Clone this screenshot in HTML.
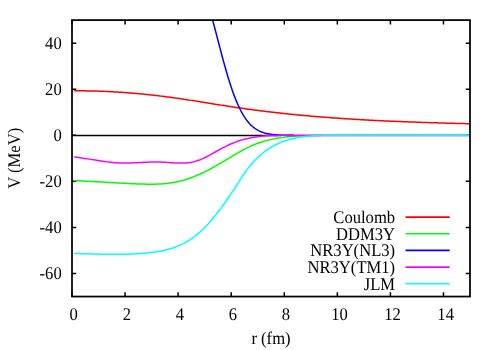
<!DOCTYPE html>
<html><head><meta charset="utf-8"><title>plot</title>
<style>
html,body{margin:0;padding:0;background:#fff;}
body{width:500px;height:350px;overflow:hidden;}
svg{display:block;}
text{font-family:"Liberation Serif",serif;font-size:16.6px;fill:#000;text-rendering:geometricPrecision;}
.t{filter:grayscale(1);}
</style></head><body>
<svg width="500" height="350" viewBox="0 0 500 350">
<rect width="500" height="350" fill="#fff"/>
<line x1="72.00" y1="135.39" x2="281.00" y2="135.39" stroke="#000" stroke-width="1.5"/>
<path d="M72.00 296.55 V292.25 M72.00 20.10 V24.40 M125.07 296.55 V292.25 M125.07 20.10 V24.40 M178.13 296.55 V292.25 M178.13 20.10 V24.40 M231.20 296.55 V292.25 M231.20 20.10 V24.40 M284.27 296.55 V292.25 M284.27 20.10 V24.40 M337.33 296.55 V292.25 M337.33 20.10 V24.40 M390.40 296.55 V292.25 M390.40 20.10 V24.40 M443.47 296.55 V292.25 M443.47 20.10 V24.40 M72.00 273.51 H76.30 M470.00 273.51 H465.70 M72.00 227.44 H76.30 M470.00 227.44 H465.70 M72.00 181.36 H76.30 M470.00 181.36 H465.70 M72.00 135.29 H76.30 M470.00 135.29 H465.70 M72.00 89.21 H76.30 M470.00 89.21 H465.70 M72.00 43.14 H76.30 M470.00 43.14 H465.70" stroke="#000" stroke-width="1.5" fill="none"/>
<path d="M74.20 90.85 L75.70 90.84 L77.20 90.84 L78.70 90.83 L80.20 90.83 L81.70 90.84 L83.20 90.85 L84.70 90.86 L86.20 90.88 L87.70 90.90 L89.20 90.92 L90.70 90.95 L92.20 90.98 L93.70 91.02 L95.20 91.05 L96.70 91.10 L98.20 91.14 L99.70 91.19 L101.20 91.25 L102.70 91.30 L104.20 91.36 L105.70 91.43 L107.20 91.49 L108.70 91.56 L110.20 91.64 L111.70 91.72 L113.20 91.80 L114.70 91.88 L116.20 91.97 L117.70 92.06 L119.20 92.16 L120.70 92.25 L122.20 92.36 L123.70 92.46 L125.20 92.57 L126.70 92.68 L128.20 92.80 L129.70 92.91 L131.20 93.04 L132.70 93.16 L134.20 93.29 L135.70 93.42 L137.20 93.55 L138.70 93.69 L140.20 93.83 L141.70 93.98 L143.20 94.12 L144.70 94.27 L146.20 94.43 L147.70 94.58 L149.20 94.74 L150.70 94.91 L152.20 95.07 L153.70 95.24 L155.20 95.41 L156.70 95.59 L158.20 95.77 L159.70 95.95 L161.20 96.13 L162.70 96.32 L164.20 96.51 L165.70 96.70 L167.20 96.90 L168.70 97.09 L170.20 97.30 L171.70 97.50 L173.20 97.71 L174.70 97.92 L176.20 98.13 L177.70 98.34 L179.20 98.56 L180.70 98.78 L182.20 99.00 L183.70 99.22 L185.20 99.45 L186.70 99.68 L188.20 99.90 L189.70 100.13 L191.20 100.37 L192.70 100.60 L194.20 100.83 L195.70 101.07 L197.20 101.30 L198.70 101.54 L200.20 101.78 L201.70 102.02 L203.20 102.25 L204.70 102.49 L206.20 102.73 L207.70 102.97 L209.20 103.21 L210.70 103.45 L212.20 103.69 L213.70 103.93 L215.20 104.17 L216.70 104.41 L218.20 104.65 L219.70 104.89 L221.20 105.13 L222.70 105.36 L224.20 105.60 L225.70 105.83 L227.20 106.07 L228.70 106.30 L230.20 106.53 L231.70 106.76 L233.20 106.98 L234.70 107.21 L236.20 107.43 L237.70 107.66 L239.20 107.88 L240.70 108.09 L242.20 108.31 L243.70 108.52 L245.20 108.73 L246.70 108.94 L248.20 109.15 L249.70 109.35 L251.20 109.56 L252.70 109.76 L254.20 109.96 L255.70 110.15 L257.20 110.35 L258.70 110.54 L260.20 110.73 L261.70 110.92 L263.20 111.11 L264.70 111.29 L266.20 111.48 L267.70 111.66 L269.20 111.84 L270.70 112.01 L272.20 112.19 L273.70 112.36 L275.20 112.53 L276.70 112.70 L278.20 112.87 L279.70 113.04 L281.20 113.20 L282.70 113.36 L284.20 113.52 L285.70 113.68 L287.20 113.84 L288.70 114.00 L290.20 114.15 L291.70 114.30 L293.20 114.45 L294.70 114.60 L296.20 114.75 L297.70 114.89 L299.20 115.04 L300.70 115.18 L302.20 115.32 L303.70 115.46 L305.20 115.59 L306.70 115.73 L308.20 115.86 L309.70 115.99 L311.20 116.13 L312.70 116.25 L314.20 116.38 L315.70 116.51 L317.20 116.63 L318.70 116.76 L320.20 116.88 L321.70 117.00 L323.20 117.12 L324.70 117.23 L326.20 117.35 L327.70 117.46 L329.20 117.58 L330.70 117.69 L332.20 117.80 L333.70 117.91 L335.20 118.02 L336.70 118.12 L338.20 118.23 L339.70 118.33 L341.20 118.43 L342.70 118.53 L344.20 118.63 L345.70 118.73 L347.20 118.83 L348.70 118.92 L350.20 119.02 L351.70 119.11 L353.20 119.21 L354.70 119.30 L356.20 119.39 L357.70 119.48 L359.20 119.56 L360.70 119.65 L362.20 119.73 L363.70 119.82 L365.20 119.90 L366.70 119.98 L368.20 120.07 L369.70 120.15 L371.20 120.22 L372.70 120.30 L374.20 120.38 L375.70 120.46 L377.20 120.53 L378.70 120.60 L380.20 120.68 L381.70 120.75 L383.20 120.82 L384.70 120.89 L386.20 120.96 L387.70 121.03 L389.20 121.10 L390.70 121.16 L392.20 121.23 L393.70 121.29 L395.20 121.36 L396.70 121.42 L398.20 121.48 L399.70 121.54 L401.20 121.61 L402.70 121.67 L404.20 121.72 L405.70 121.78 L407.20 121.84 L408.70 121.90 L410.20 121.95 L411.70 122.01 L413.20 122.07 L414.70 122.12 L416.20 122.17 L417.70 122.23 L419.20 122.28 L420.70 122.33 L422.20 122.38 L423.70 122.43 L425.20 122.48 L426.70 122.53 L428.20 122.58 L429.70 122.63 L431.20 122.68 L432.70 122.72 L434.20 122.77 L435.70 122.82 L437.20 122.86 L438.70 122.91 L440.20 122.95 L441.70 123.00 L443.20 123.04 L444.70 123.09 L446.20 123.13 L447.70 123.17 L449.20 123.21 L450.70 123.26 L452.20 123.30 L453.70 123.34 L455.20 123.38 L456.70 123.42 L458.20 123.46 L459.70 123.50 L461.20 123.54 L462.70 123.58 L464.20 123.62 L465.70 123.66 L467.20 123.70 L468.70 123.74 L469.60 123.76" fill="none" stroke="#ff0000" stroke-width="1.5" stroke-linejoin="round" stroke-linecap="butt"/>
<path d="M74.20 180.69 L75.70 180.73 L77.20 180.78 L78.70 180.84 L80.20 180.90 L81.70 180.96 L83.20 181.02 L84.70 181.09 L86.20 181.16 L87.70 181.23 L89.20 181.31 L90.70 181.38 L92.20 181.46 L93.70 181.54 L95.20 181.63 L96.70 181.71 L98.20 181.79 L99.70 181.88 L101.20 181.97 L102.70 182.06 L104.20 182.14 L105.70 182.23 L107.20 182.32 L108.70 182.41 L110.20 182.50 L111.70 182.59 L113.20 182.68 L114.70 182.77 L116.20 182.85 L117.70 182.94 L119.20 183.02 L120.70 183.11 L122.20 183.19 L123.70 183.27 L125.20 183.35 L126.70 183.42 L128.20 183.50 L129.70 183.57 L131.20 183.64 L132.70 183.71 L134.20 183.77 L135.70 183.83 L137.20 183.89 L138.70 183.95 L140.20 184.00 L141.70 184.04 L143.20 184.09 L144.70 184.12 L146.20 184.15 L147.70 184.18 L149.20 184.19 L150.70 184.20 L152.20 184.19 L153.70 184.18 L155.20 184.15 L156.70 184.11 L158.20 184.05 L159.70 183.99 L161.20 183.90 L162.70 183.80 L164.20 183.68 L165.70 183.55 L167.20 183.39 L168.70 183.22 L170.20 183.02 L171.70 182.80 L173.20 182.56 L174.70 182.30 L176.20 182.01 L177.70 181.70 L179.20 181.36 L180.70 180.99 L182.20 180.60 L183.70 180.17 L185.20 179.73 L186.70 179.25 L188.20 178.76 L189.70 178.24 L191.20 177.69 L192.70 177.12 L194.20 176.53 L195.70 175.92 L197.20 175.29 L198.70 174.63 L200.20 173.96 L201.70 173.27 L203.20 172.56 L204.70 171.83 L206.20 171.08 L207.70 170.32 L209.20 169.54 L210.70 168.75 L212.20 167.94 L213.70 167.12 L215.20 166.28 L216.70 165.43 L218.20 164.57 L219.70 163.70 L221.20 162.82 L222.70 161.92 L224.20 161.02 L225.70 160.12 L227.20 159.21 L228.70 158.30 L230.20 157.40 L231.70 156.49 L233.20 155.59 L234.70 154.70 L236.20 153.82 L237.70 152.95 L239.20 152.09 L240.70 151.24 L242.20 150.42 L243.70 149.61 L245.20 148.82 L246.70 148.06 L248.20 147.33 L249.70 146.62 L251.20 145.94 L252.70 145.28 L254.20 144.66 L255.70 144.07 L257.20 143.50 L258.70 142.96 L260.20 142.45 L261.70 141.96 L263.20 141.49 L264.70 141.05 L266.20 140.63 L267.70 140.24 L269.20 139.86 L270.70 139.51 L272.20 139.18 L273.70 138.87 L275.20 138.57 L276.70 138.30 L278.20 138.04 L279.70 137.80 L281.20 137.58 L282.70 137.37 L284.20 137.17 L285.70 137.00 L287.20 136.83 L288.70 136.68 L290.20 136.54 L291.70 136.41 L293.20 136.29 L294.70 136.19 L296.20 136.09 L297.70 136.00 L299.20 135.92 L300.70 135.85 L302.20 135.79 L303.70 135.74 L305.20 135.69 L306.70 135.65 L308.20 135.62 L309.70 135.59 L311.20 135.56 L312.70 135.54 L314.20 135.52 L315.70 135.51 L317.20 135.50 L318.70 135.49 L320.00 135.39" fill="none" stroke="#00ff00" stroke-width="1.5" stroke-linejoin="round" stroke-linecap="butt"/>
<line x1="319.50" y1="135.39" x2="322.00" y2="135.39" stroke="#00ff00" stroke-width="1.5"/>
<path d="M212.60 20.10 L213.60 23.78 L214.60 27.53 L215.60 31.31 L216.60 35.13 L217.60 38.96 L218.60 42.80 L219.60 46.63 L220.60 50.43 L221.60 54.21 L222.60 57.95 L223.60 61.63 L224.60 65.25 L225.60 68.80 L226.60 72.28 L227.60 75.67 L228.60 78.97 L229.60 82.18 L230.60 85.28 L231.60 88.28 L232.60 91.17 L233.60 93.96 L234.60 96.63 L235.60 99.18 L236.60 101.63 L237.60 103.95 L238.60 106.17 L239.60 108.28 L240.60 110.27 L241.60 112.15 L242.60 113.93 L243.60 115.61 L244.60 117.18 L245.60 118.65 L246.60 120.04 L247.60 121.32 L248.60 122.53 L249.60 123.65 L250.60 124.68 L251.60 125.65 L252.60 126.54 L253.60 127.36 L254.60 128.12 L255.60 128.81 L256.60 129.45 L257.60 130.04 L258.60 130.58 L259.60 131.07 L260.60 131.51 L261.60 131.92 L262.60 132.28 L263.60 132.62 L264.60 132.92 L265.60 133.19 L266.60 133.44 L267.60 133.66 L268.60 133.86 L269.60 134.04 L270.60 134.19 L271.60 134.34 L272.60 134.46 L273.60 134.58 L274.60 134.68 L275.60 134.76 L276.60 134.84 L277.60 134.91 L278.60 134.97 L279.60 135.03 L280.60 135.08 L281.60 135.12 L282.60 135.15 L283.60 135.19 L284.60 135.21 L285.60 135.24 L286.60 135.26 L287.60 135.28 L288.60 135.29 L289.60 135.31 L290.60 135.32 L291.60 135.33 L292.60 135.34 L293.60 135.34 L294.02 135.39" fill="none" stroke="#0000ff" stroke-width="1.5" stroke-linejoin="round" stroke-linecap="butt"/>
<line x1="293.52" y1="135.39" x2="287.50" y2="135.39" stroke="#0000ff" stroke-width="1.5"/>
<path d="M74.20 156.92 L75.70 157.10 L77.20 157.30 L78.70 157.50 L80.20 157.72 L81.70 157.94 L83.20 158.17 L84.70 158.40 L86.20 158.64 L87.70 158.88 L89.20 159.13 L90.70 159.37 L92.20 159.62 L93.70 159.86 L95.20 160.11 L96.70 160.35 L98.20 160.58 L99.70 160.82 L101.20 161.04 L102.70 161.26 L104.20 161.47 L105.70 161.67 L107.20 161.87 L108.70 162.05 L110.20 162.22 L111.70 162.37 L113.20 162.52 L114.70 162.64 L116.20 162.75 L117.70 162.85 L119.20 162.92 L120.70 162.98 L122.20 163.01 L123.70 163.03 L125.20 163.03 L126.70 163.02 L128.20 163.00 L129.70 162.96 L131.20 162.91 L132.70 162.86 L134.20 162.79 L135.70 162.72 L137.20 162.65 L138.70 162.57 L140.20 162.49 L141.70 162.41 L143.20 162.34 L144.70 162.26 L146.20 162.19 L147.70 162.13 L149.20 162.07 L150.70 162.03 L152.20 161.99 L153.70 161.97 L155.20 161.95 L156.70 161.96 L158.20 161.98 L159.70 162.01 L161.20 162.07 L162.70 162.14 L164.20 162.23 L165.70 162.33 L167.20 162.43 L168.70 162.54 L170.20 162.64 L171.70 162.75 L173.20 162.85 L174.70 162.93 L176.20 163.01 L177.70 163.06 L179.20 163.10 L180.70 163.12 L182.20 163.11 L183.70 163.06 L185.20 162.99 L186.70 162.88 L188.20 162.72 L189.70 162.53 L191.20 162.29 L192.70 162.00 L194.20 161.65 L195.70 161.25 L197.20 160.79 L198.70 160.28 L200.20 159.71 L201.70 159.09 L203.20 158.43 L204.70 157.72 L206.20 156.97 L207.70 156.19 L209.20 155.37 L210.70 154.54 L212.20 153.69 L213.70 152.84 L215.20 151.99 L216.70 151.15 L218.20 150.32 L219.70 149.50 L221.20 148.69 L222.70 147.90 L224.20 147.13 L225.70 146.38 L227.20 145.65 L228.70 144.95 L230.20 144.27 L231.70 143.61 L233.20 142.99 L234.70 142.39 L236.20 141.83 L237.70 141.30 L239.20 140.80 L240.70 140.32 L242.20 139.88 L243.70 139.47 L245.20 139.08 L246.70 138.72 L248.20 138.38 L249.70 138.06 L251.20 137.77 L252.70 137.50 L254.20 137.25 L255.70 137.02 L257.20 136.80 L258.70 136.61 L260.20 136.43 L261.70 136.26 L263.20 136.12 L264.70 135.99 L266.20 135.87 L267.70 135.76 L269.20 135.67 L270.70 135.59 L272.20 135.52 L273.70 135.46 L275.20 135.42 L276.70 135.38 L278.20 135.35 L279.70 135.32 L281.20 135.31 L282.70 135.30 L284.20 135.29 L285.00 135.39" fill="none" stroke="#ff00ff" stroke-width="1.5" stroke-linejoin="round" stroke-linecap="butt"/>
<line x1="284.50" y1="135.39" x2="469.60" y2="135.39" stroke="#ff00ff" stroke-width="1.7"/>
<path d="M74.20 253.51 L75.70 253.53 L77.20 253.57 L78.70 253.60 L80.20 253.64 L81.70 253.67 L83.20 253.71 L84.70 253.75 L86.20 253.79 L87.70 253.83 L89.20 253.87 L90.70 253.91 L92.20 253.95 L93.70 253.99 L95.20 254.02 L96.70 254.06 L98.20 254.10 L99.70 254.13 L101.20 254.16 L102.70 254.19 L104.20 254.22 L105.70 254.25 L107.20 254.27 L108.70 254.29 L110.20 254.30 L111.70 254.32 L113.20 254.32 L114.70 254.33 L116.20 254.33 L117.70 254.32 L119.20 254.31 L120.70 254.30 L122.20 254.28 L123.70 254.25 L125.20 254.22 L126.70 254.18 L128.20 254.14 L129.70 254.09 L131.20 254.03 L132.70 253.97 L134.20 253.89 L135.70 253.81 L137.20 253.73 L138.70 253.63 L140.20 253.53 L141.70 253.41 L143.20 253.29 L144.70 253.16 L146.20 253.02 L147.70 252.87 L149.20 252.71 L150.70 252.54 L152.20 252.36 L153.70 252.17 L155.20 251.96 L156.70 251.74 L158.20 251.50 L159.70 251.24 L161.20 250.96 L162.70 250.66 L164.20 250.34 L165.70 249.99 L167.20 249.62 L168.70 249.22 L170.20 248.79 L171.70 248.33 L173.20 247.84 L174.70 247.31 L176.20 246.75 L177.70 246.16 L179.20 245.52 L180.70 244.85 L182.20 244.14 L183.70 243.38 L185.20 242.58 L186.70 241.73 L188.20 240.84 L189.70 239.90 L191.20 238.91 L192.70 237.87 L194.20 236.78 L195.70 235.63 L197.20 234.43 L198.70 233.17 L200.20 231.85 L201.70 230.47 L203.20 229.03 L204.70 227.54 L206.20 225.99 L207.70 224.39 L209.20 222.74 L210.70 221.03 L212.20 219.28 L213.70 217.49 L215.20 215.64 L216.70 213.76 L218.20 211.83 L219.70 209.86 L221.20 207.85 L222.70 205.81 L224.20 203.73 L225.70 201.61 L227.20 199.47 L228.70 197.29 L230.20 195.09 L231.70 192.85 L233.20 190.59 L234.70 188.31 L236.20 186.01 L237.70 183.68 L239.20 181.35 L240.70 179.02 L242.20 176.72 L243.70 174.46 L245.20 172.26 L246.70 170.15 L248.20 168.14 L249.70 166.24 L251.20 164.44 L252.70 162.73 L254.20 161.10 L255.70 159.54 L257.20 158.05 L258.70 156.63 L260.20 155.27 L261.70 153.98 L263.20 152.75 L264.70 151.58 L266.20 150.47 L267.70 149.42 L269.20 148.43 L270.70 147.48 L272.20 146.59 L273.70 145.75 L275.20 144.96 L276.70 144.21 L278.20 143.50 L279.70 142.84 L281.20 142.22 L282.70 141.64 L284.20 141.10 L285.70 140.58 L287.20 140.11 L288.70 139.66 L290.20 139.25 L291.70 138.86 L293.20 138.49 L294.70 138.16 L296.20 137.85 L297.70 137.56 L299.20 137.29 L300.70 137.05 L302.20 136.83 L303.70 136.63 L305.20 136.45 L306.70 136.29 L308.20 136.14 L309.70 136.01 L311.20 135.90 L312.70 135.80 L314.20 135.71 L315.70 135.64 L317.20 135.58 L318.70 135.53 L320.20 135.49 L321.70 135.46 L323.20 135.43 L324.70 135.42 L326.20 135.41 L327.70 135.41 L329.20 135.41 L330.70 135.41 L332.00 135.39" fill="none" stroke="#00ffff" stroke-width="1.5" stroke-linejoin="round" stroke-linecap="butt"/>
<line x1="331.50" y1="135.47" x2="469.60" y2="135.47" stroke="#00ffff" stroke-width="1.7"/>
<rect x="72.00" y="20.10" width="398.00" height="276.45" fill="none" stroke="#000" stroke-width="1.75"/>
<g class="t">
<text transform="translate(73.70 319.70) scale(1 1.075)" text-anchor="middle">0</text>
<text transform="translate(126.77 319.70) scale(1 1.075)" text-anchor="middle">2</text>
<text transform="translate(179.83 319.70) scale(1 1.075)" text-anchor="middle">4</text>
<text transform="translate(232.90 319.70) scale(1 1.075)" text-anchor="middle">6</text>
<text transform="translate(285.97 319.70) scale(1 1.075)" text-anchor="middle">8</text>
<text transform="translate(339.53 319.70) scale(1 1.075)" text-anchor="middle">10</text>
<text transform="translate(392.60 319.70) scale(1 1.075)" text-anchor="middle">12</text>
<text transform="translate(445.67 319.70) scale(1 1.075)" text-anchor="middle">14</text>
<text transform="translate(61.70 278.96) scale(1 1.075)" text-anchor="end">-60</text>
<text transform="translate(61.70 232.89) scale(1 1.075)" text-anchor="end">-40</text>
<text transform="translate(61.70 186.81) scale(1 1.075)" text-anchor="end">-20</text>
<text transform="translate(61.70 140.74) scale(1 1.075)" text-anchor="end">0</text>
<text transform="translate(61.70 94.66) scale(1 1.075)" text-anchor="end">20</text>
<text transform="translate(61.70 48.59) scale(1 1.075)" text-anchor="end">40</text>
<text transform="translate(271.00 344.30) scale(1 1.075)" text-anchor="middle">r (fm)</text>
<text transform="translate(19.90 158.30) rotate(-90) scale(1 1.075)" text-anchor="middle">V (MeV)</text>
<text transform="translate(395.10 223.05) scale(1 1.075)" text-anchor="end">Coulomb</text>
<text transform="translate(395.10 239.73) scale(1 1.075)" text-anchor="end">DDM3Y</text>
<text transform="translate(395.10 256.41) scale(1 1.075)" text-anchor="end">NR3Y(NL3)</text>
<text transform="translate(395.10 273.09) scale(1 1.075)" text-anchor="end">NR3Y(TM1)</text>
<text transform="translate(395.10 289.77) scale(1 1.075)" text-anchor="end">JLM</text>
</g>
<line x1="405.50" y1="217.05" x2="449.70" y2="217.05" stroke="#ff0000" stroke-width="1.7"/>
<line x1="405.50" y1="233.73" x2="449.70" y2="233.73" stroke="#00ff00" stroke-width="1.7"/>
<line x1="405.50" y1="250.41" x2="449.70" y2="250.41" stroke="#0000ff" stroke-width="1.7"/>
<line x1="405.50" y1="267.09" x2="449.70" y2="267.09" stroke="#ff00ff" stroke-width="1.7"/>
<line x1="405.50" y1="283.77" x2="449.70" y2="283.77" stroke="#00ffff" stroke-width="1.7"/>
</svg>
</body></html>
